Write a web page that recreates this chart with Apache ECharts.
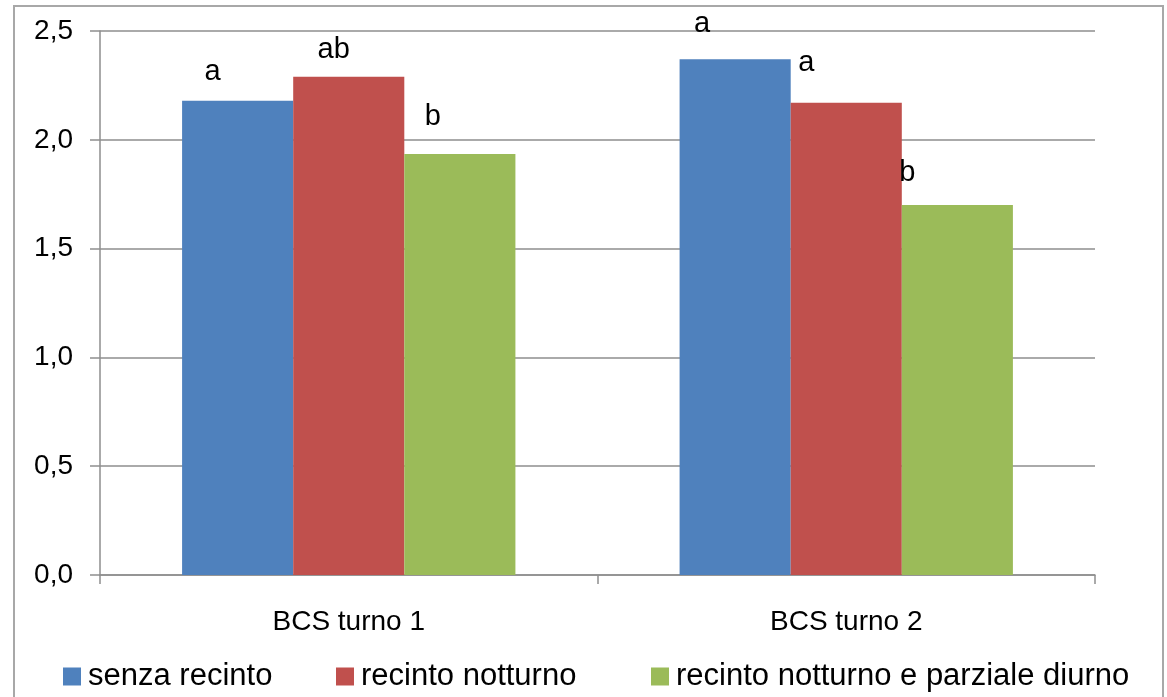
<!DOCTYPE html>
<html>
<head>
<meta charset="utf-8">
<title>BCS turno</title>
<script src="https://cdn.jsdelivr.net/npm/echarts@6/dist/echarts.min.js"></script>
<style>
    html, body { margin: 0; padding: 0; background: #fff; }
    #chart { width: 1167px; height: 697px; }
</style>
</head>
<body>
<div id="chart"></div>
<script>
    // ---- Data ----
    const categories = ["BCS turno 1", "BCS turno 2"];
    const seriesNames = ["senza recinto", "recinto notturno", "recinto notturno e parziale diurno"];
    const senzaRecinto = [2.18, 2.37];
    const recintoNotturno = [2.29, 2.17];
    const recintoParziale = [1.935, 1.70];
    const letters = [["a", "a"], ["ab", "a"], ["b", "b"]];
    const yTicks = [0, 0.5, 1.0, 1.5, 2.0, 2.5];

    // ---- Look ----
    const COLORS = ["#4F81BD", "#C0504D", "#9BBB59"];
    const FONT = "Liberation Sans";
    const GRID_GRAY = "#8e8e8e";
    // letters sit a bit left of the bar centre in the original: [dx, gap above bar]
    const letterPos = [
        [[-25, 20], [-33, 27]],
        [[-15, 18], [-40, 31]],
        [[-27, 28], [-50, 24]]
    ];
    const legendLeft = [58, 331, 646];

    const values = [senzaRecinto, recintoNotturno, recintoParziale];

    const series = values.map((vals, s) => ({
        name: seriesNames[s],
        type: "bar",
        barGap: "0%",
        barCategoryGap: "33%",
        itemStyle: { color: COLORS[s] },
        data: vals.map((v, i) => ({
            value: v,
            label: {
                show: true,
                position: "top",
                distance: 0,
                offset: [letterPos[s][i][0], -(letterPos[s][i][1] - 6)],
                formatter: letters[s][i],
                color: "#000",
                fontFamily: FONT,
                fontSize: 29
            }
        }))
    }));

    const legends = seriesNames.map((name, s) => ({
        data: [name],
        left: legendLeft[s],
        top: 656,
        icon: "rect",
        itemWidth: 18,
        itemHeight: 18,
        itemGap: 0,
        selectedMode: false,
        textStyle: { fontFamily: FONT, fontSize: 31, color: "#000", padding: [0, 0, 0, 2] }
    }));

    const chart = echarts.init(document.getElementById("chart"), null, { renderer: "canvas" });
    chart.setOption({
        animation: false,
        backgroundColor: "#fff",
        graphic: [{
            type: "rect",
            shape: { x: 14, y: 6, width: 1149, height: 720 },
            style: { fill: null, stroke: "#a8a8a8", lineWidth: 2 },
            silent: true
        }],
        legend: legends,
        grid: { left: 100, right: 72, top: 31, bottom: 122, containLabel: false },
        xAxis: {
            type: "category",
            data: categories,
            axisLine: { lineStyle: { color: GRID_GRAY, width: 1.5 } },
            axisTick: { show: true, length: 9, lineStyle: { color: GRID_GRAY, width: 1.5 } },
            axisLabel: { margin: 33, color: "#000", fontFamily: FONT, fontSize: 28 }
        },
        yAxis: {
            type: "value",
            min: yTicks[0],
            max: yTicks[yTicks.length - 1],
            interval: 0.5,
            axisLine: { show: true, lineStyle: { color: GRID_GRAY, width: 1.5 } },
            axisTick: { show: true, length: 10, lineStyle: { color: GRID_GRAY, width: 1.5 } },
            splitLine: { lineStyle: { color: GRID_GRAY, width: 1.5 } },
            axisLabel: {
                margin: 27,
                color: "#000",
                fontFamily: FONT,
                fontSize: 28,
                formatter: v => v.toFixed(1).replace(".", ",")
            }
        },
        series
    });

    window.addEventListener("resize", () => chart.resize());
</script>
</body>
</html>
